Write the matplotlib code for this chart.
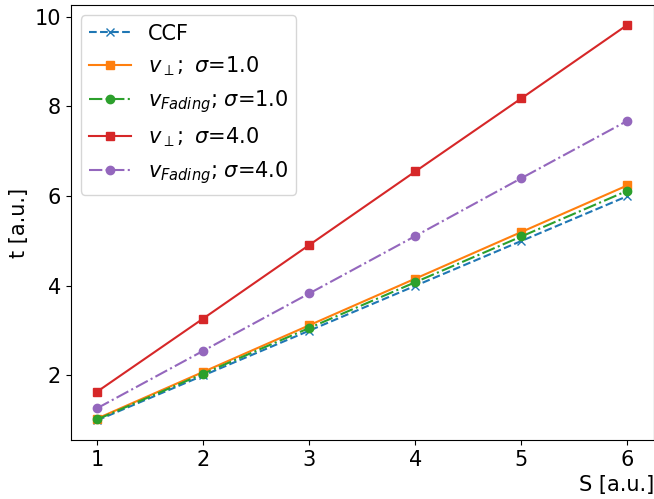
import numpy as np
import matplotlib
matplotlib.use('Agg')
import matplotlib.pyplot as plt

# Valori
S = [1, 2, 3, 4, 5, 6]
t_ccf = [1.0, 2.0, 3.0, 4.0, 5.0, 6.0]
t_perp_s1 = [1.04, 2.08, 3.12, 4.16, 5.20, 6.24]
t_fad_s1 = [1.02, 2.04, 3.06, 4.08, 5.10, 6.12]
t_perp_s4 = [1.64, 3.27, 4.91, 6.55, 8.18, 9.82]
t_fad_s4 = [1.27, 2.55, 3.83, 5.11, 6.40, 7.68]

plt.rcParams['font.size'] = 15

fig = plt.figure(figsize=(6.54, 4.99), dpi=100)
ax = fig.add_axes([0.108, 0.118, 0.892, 0.872])

ax.plot(S, t_ccf, '--x', color='tab:blue', label='CCF')
ax.plot(S, t_perp_s1, '-s', color='tab:orange', label=r'$v_\perp;\ \sigma$=1.0')
ax.plot(S, t_fad_s1, '-.o', color='tab:green', label=r'$v_{Fading}$; $\sigma$=1.0')
ax.plot(S, t_perp_s4, '-s', color='tab:red', label=r'$v_\perp;\ \sigma$=4.0')
ax.plot(S, t_fad_s4, '-.o', color='tab:purple', label=r'$v_{Fading}$; $\sigma$=4.0')

ax.set_xlabel('S [a.u.]', loc='right')
ax.set_ylabel('t [a.u.]')
ax.set_yticks([2, 4, 6, 8, 10])
ax.legend(loc='upper left')

fig.savefig('out.png', dpi=100)
